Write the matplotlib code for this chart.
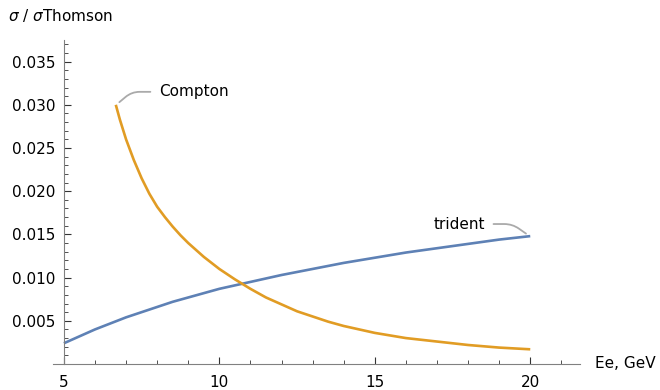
import matplotlib.pyplot as plt
from matplotlib.ticker import MultipleLocator, FormatStrFormatter

# values
compton_x = [6.67, 6.8, 7.0, 7.25, 7.5, 7.75, 8.0, 8.25, 8.5, 8.75, 9.0, 9.25,
             9.5, 9.75, 10.0, 10.5, 11.0, 11.5, 12.0, 12.5, 13.0, 13.5, 14.0,
             14.5, 15.0, 15.5, 16.0, 17.0, 18.0, 19.0, 20.0]
compton_y = [0.0300, 0.0283, 0.0260, 0.0236, 0.0215, 0.0197, 0.0182, 0.0170,
             0.0159, 0.0149, 0.0140, 0.0132, 0.0124, 0.0117, 0.0110, 0.0098,
             0.0087, 0.0077, 0.0069, 0.0061, 0.0055, 0.0049, 0.0044, 0.0040,
             0.0036, 0.0033, 0.0030, 0.0026, 0.0022, 0.0019, 0.0017]

trident_x = [5, 5.5, 6, 6.5, 7, 7.5, 8, 8.5, 9, 9.5, 10, 11, 12, 13, 14, 15,
             16, 17, 18, 19, 20]
trident_y = [0.0024, 0.0032, 0.0040, 0.0047, 0.0054, 0.0060, 0.0066, 0.0072,
             0.0077, 0.0082, 0.0087, 0.0095, 0.0103, 0.0110, 0.0117, 0.0123,
             0.0129, 0.0134, 0.0139, 0.0144, 0.0148]

x_major = [5, 10, 15, 20]

blue = "#5E81B5"
orange = "#E19C24"
axcol = "#808080"

fig = plt.figure(figsize=(6.6, 3.9), dpi=100)
ax = fig.add_axes([53/660, 26/390, 527/660, 324/390])

ax.plot(trident_x, trident_y, color=blue, lw=1.9, solid_capstyle="butt")
ax.plot(compton_x, compton_y, color=orange, lw=1.9, solid_capstyle="butt")

ax.set_xlim(4.65, 21.6)
ax.set_ylim(0, 0.0375)

for s in ["top", "right"]:
    ax.spines[s].set_visible(False)
ax.spines["left"].set_position(("data", 5))
ax.spines["left"].set_color(axcol)
ax.spines["bottom"].set_color(axcol)

ax.set_xticks(x_major)
ax.xaxis.set_minor_locator(MultipleLocator(1))
ax.yaxis.set_minor_locator(MultipleLocator(0.001))
ax.yaxis.set_major_formatter(FormatStrFormatter("%.3f"))
ax.set_yticks([0.005, 0.010, 0.015, 0.020, 0.025, 0.030, 0.035])

ax.tick_params(which="major", direction="in", length=5, width=0.8,
               color="#333333", labelsize=11)
ax.tick_params(which="minor", direction="in", length=3, width=0.6,
               color="#333333")
ax.tick_params(axis="x", pad=8)
ax.tick_params(axis="y", pad=6)

# callout labels
ax.annotate("Compton", xy=(6.75, 0.0302), xytext=(8.05, 0.0315),
            fontsize=11, va="center", ha="left",
            arrowprops=dict(arrowstyle="-", color="#aaaaaa", lw=1.3,
                            shrinkA=4, shrinkB=1,
                            connectionstyle="angle,angleA=0,angleB=40,rad=8"))
ax.annotate("trident", xy=(19.9, 0.0150), xytext=(18.55, 0.0162),
            fontsize=11, va="center", ha="right",
            arrowprops=dict(arrowstyle="-", color="#aaaaaa", lw=1.3,
                            shrinkA=4, shrinkB=1,
                            connectionstyle="angle,angleA=0,angleB=-35,rad=8"))

fig.text(595/660, 1 - 364/390, "Ee, GeV", fontsize=11, va="center", ha="left")
fig.text(8/660, 1 - 16/390, r"$\sigma$ / $\sigma$Thomson", fontsize=11,
         va="center", ha="left")

plt.savefig("out.png", dpi=100)
